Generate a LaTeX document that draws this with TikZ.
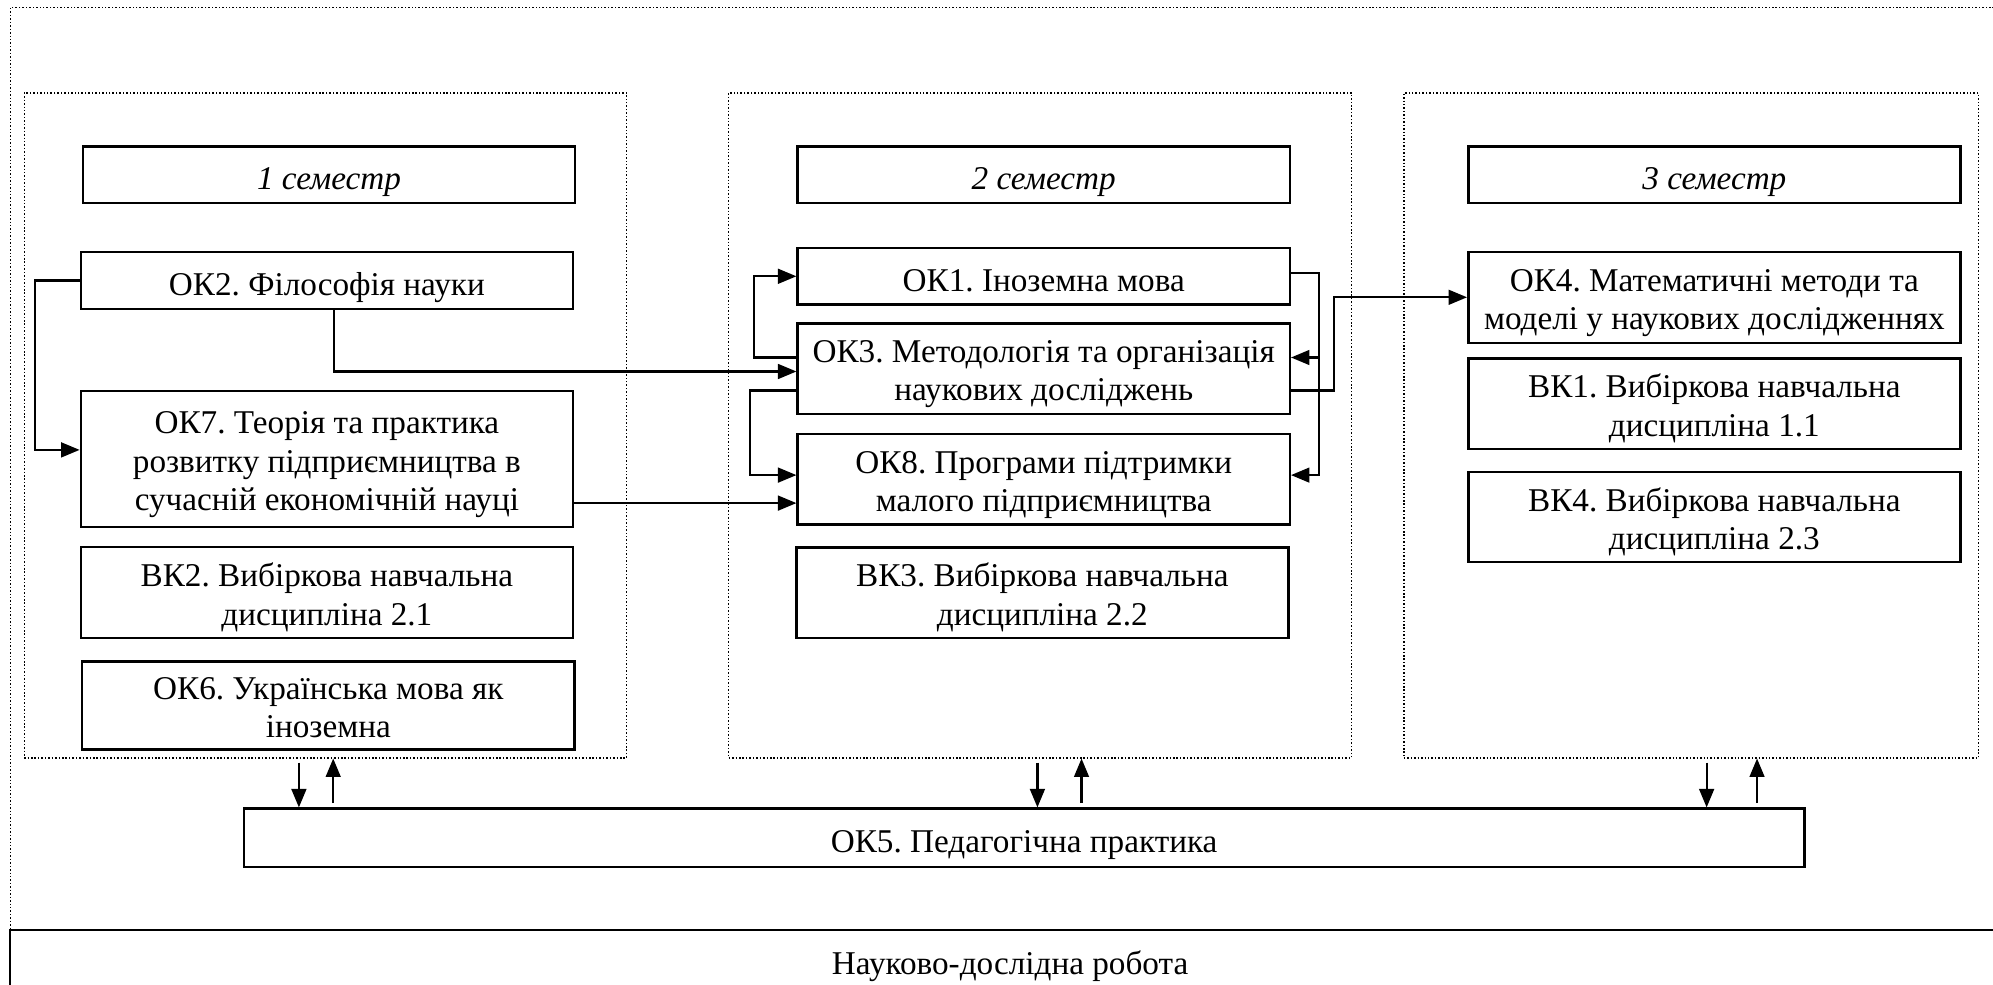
\documentclass[tikz,border=0pt]{standalone}
\usepackage{fontspec}
\setmainfont{Liberation Serif}
\usetikzlibrary{arrows.meta}
\frenchspacing
\newcommand{\topline}{\rule{0pt}{1.0em}}

\begin{document}
\begin{tikzpicture}[
  course/.style={draw, line width=1pt, minimum width=7.03cm, minimum height=0.81cm,
    align=center, inner sep=2pt, font=\fontsize{13.5}{15.5}\selectfont,
    execute at begin node={\rule{0pt}{1.1em}}, execute at end node={\rule[-0.2em]{0pt}{0pt}}},
  twoline/.style={course, minimum height=1.29cm},
  semframe/.style 2 args={draw, line width=0.5pt, dash pattern=on 0.6pt off 0.8pt,
    minimum width=#1, minimum height=#2, inner sep=0pt},
  link/.style={line width=0.9pt, -{Triangle[length=7.5pt, width=6pt]}},
  updown/.style={link, shorten <=0.06cm}
]
  \useasboundingbox (0, 0) rectangle (28.471, 14.057);
  \clip (0, 0) rectangle (28.471, 14.057);

  % Frames
  \node[semframe={28.57cm}{13.17cm}] (all) at (14.43, 7.36) {};
  \node[semframe={8.61cm}{9.5cm}] (s1) at (4.65, 7.98) {};
  \node[semframe={8.9cm}{9.5cm}] (s2) at (14.86, 7.98) {};
  \node[semframe={8.21cm}{9.5cm}] (s3) at (24.16, 7.98) {};

  % Semester titles
  \node[course] (t1) at (4.70, 11.56) {\textit{1 семестр}};
  \node[course] (t2) at (14.91, 11.56) {\textit{2 семестр}};
  \node[course] (t3) at (24.49, 11.56) {\textit{3 семестр}};

  % 1 semester
  \node[course] (ok2) at (4.67, 10.05) {ОК2. Філософія науки};
  \node[course, minimum height=1.94cm] (ok7) at (4.67, 7.50) {\topline ОК7. Теорія та практика\\розвитку підприємництва в\\сучасній економічній науці};
  \node[twoline, minimum height=1.30cm] (vk2) at (4.67, 5.59) {\topline ВК2. Вибіркова навчальна\\дисципліна 2.1};
  \node[twoline, minimum height=1.24cm] (ok6) at (4.69, 3.98) {\topline ОК6. Українська мова як\\іноземна};

  % 2 semester
  \node[course] (ok1) at (14.91, 10.11) {ОК1. Іноземна мова};
  \node[twoline] (ok3) at (14.91, 8.79) {\topline ОК3. Методологія та організація\\наукових досліджень};
  \node[twoline] (ok8) at (14.91, 7.21) {\topline ОК8. Програми підтримки\\малого підприємництва};
  \node[twoline] (vk3) at (14.89, 5.59) {\topline ВК3. Вибіркова навчальна\\дисципліна 2.2};

  % 3 semester
  \node[twoline, minimum height=1.30cm] (ok4) at (24.49, 9.81) {\topline ОК4. Математичні методи та\\моделі у наукових дослідженнях};
  \node[twoline] (vk1) at (24.49, 8.29) {\topline ВК1. Вибіркова навчальна\\дисципліна 1.1};
  \node[twoline] (vk4) at (24.49, 6.67) {\topline ВК4. Вибіркова навчальна\\дисципліна 2.3};

  % Practice and research
  \node[course, minimum width=22.29cm, minimum height=0.83cm] (ok5) at (14.63, 2.09) {ОК5. Педагогічна практика};
  \node[course, minimum width=28.57cm, minimum height=0.86cm] (nir) at (14.43, 0.34) {Науково-дослідна робота};

  % Links inside semesters
  \draw[link] (ok2.west) -- ++(-0.64, 0) |- ([yshift=0.13cm]ok7.west);
  \draw[link] ([xshift=0.1cm]ok2.south) |- ([yshift=-0.04cm]ok3.west);
  \coordinate (in8) at ([yshift=-0.34cm]ok8.west);
  \draw[link] (ok7.east |- in8) -- (in8);
  \draw[link] ([yshift=0.16cm]ok3.west) -- ++(-0.61, 0) |- (ok1.west);
  \draw[link] ([yshift=-0.31cm]ok3.west) -- ++(-0.66, 0) |- ([yshift=0.06cm]ok8.west);
  \coordinate (r1) at ([yshift=0.05cm, xshift=0.4cm]ok1.east);
  \draw[link] ([yshift=0.05cm]ok1.east) -- (r1) |- ([yshift=0.06cm]ok8.east);
  \coordinate (in3) at ([yshift=0.16cm]ok3.east);
  \draw[link] (r1 |- in3) -- (in3);
  \draw[link] ([yshift=-0.31cm]ok3.east) -- ++(0.61, 0) |- (ok4.west);

  % Links to practice
  \draw[updown] ([xshift=-0.38cm]s1.south) -- ([xshift=-0.38cm]s1.south |- ok5.north);
  \draw[updown] ([xshift=0.11cm]s1.south |- ok5.north) -- ([xshift=0.11cm]s1.south);
  \draw[updown] ([xshift=-0.04cm]s2.south) -- ([xshift=-0.04cm]s2.south |- ok5.north);
  \draw[updown] ([xshift=0.59cm]s2.south |- ok5.north) -- ([xshift=0.59cm]s2.south);
  \draw[updown] ([xshift=0.22cm]s3.south) -- ([xshift=0.22cm]s3.south |- ok5.north);
  \draw[updown] ([xshift=0.94cm]s3.south |- ok5.north) -- ([xshift=0.94cm]s3.south);
\end{tikzpicture}
\end{document}
